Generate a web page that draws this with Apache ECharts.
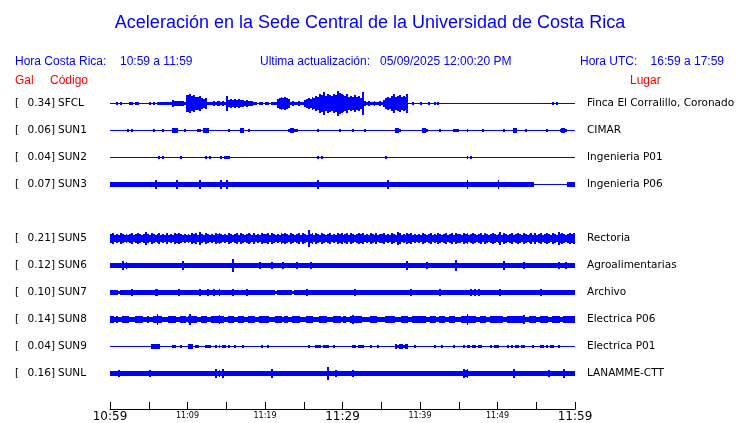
<!DOCTYPE html>
<html><head><meta charset="utf-8">
<script src="https://cdn.jsdelivr.net/npm/echarts@6/dist/echarts.min.js"></script>
<style>html,body{margin:0;padding:0;background:#fff}#c{width:740px;height:423px}</style>
</head><body><div id="c"></div>
<script>
// ---- data ----
const codes  = ['SFCL','SUN1','SUN2','SUN3','SUN5','SUN6','SUN7','SUN8','SUN9','SUNL'];
const gal    = [0.34, 0.06, 0.04, 0.07, 0.21, 0.12, 0.10, 0.14, 0.04, 0.16];
const places = ['Finca El Corralillo, Coronado','CIMAR','Ingenieria P01','Ingenieria P06','Rectoria',
                'Agroalimentarias','Archivo','Electrica P06','Electrica P01','LANAMME-CTT'];
const slots  = [0,1,2,3,5,6,7,8,9,10];           // row of each station (SUN4 row empty)
const tickLabels = ['10:59','11:09','11:19','11:29','11:39','11:49','11:59'];
const stepMin = 0.25;                              // minutes per envelope sample
// envelope half-amplitude per 0.25 min (base-36 digits), one string per 5 minutes
const ampSFCL = ['00010100001101100000','10101111111132222218','89786675451112122121','73434343323222110110',
                 '11011145656541211211','3454657698b798798ca9','8796768675b212112112','13565796786769001000',
                 '10001001010000000000','00000000000000000000','00000000000000000000','00000000101000000000'];
const ampSUN1 = ['00000000010100000000','00100001000022200010','00000110222000000000','01000002200100000000',
                 '00000000000012211000','00000001000000000010','00000100000100000000','00000002210000000000',
                 '02210000001000000111','00001000000010000000','00010000220000100000','00000100000012210000'];
const ampSUN2 = ['00000000000000000000','00000101000000001000','00000000010100000101','11000000000000000000',
                 '00000000000000000000','00000001010000000000','00000000000000000000','00100000000000000000',
                 '00000000000000000000','00001010000000000000','00000000000000000000','00000000000000000000'];
const ampSUN3 = ['22222222222222222222','22242222222222422222','22222242222222222422','42222222222222222222',
                 '22222222222222222222','22222224222222222222','22222222222222222222','22242222222222222222',
                 '22222222222222222222','22224222222222222222','42222222222222222220','00000000000000002222'];
const ampSUN5 = ['45343543434534543464','35434534353435454343','43545364354343545434','35434535434543534354',
                 '45354343545435434535','43845354354345343545','34535434545343543534','45343543653435453434',
                 '35434534354345345354','43545345434535434543','46354345345435434535','34534543543645434545'];
const ampSUN6 = ['22222242322222222222','22222222222222222422','22222222222222222222','22262222222222222322',
                 '22232222232222223222','22232222222222222222','22222222222222222222','22222222222224222222',
                 '22232222222222222252','22222222222222222222','22242222222223222222','22222222222322232222'];
const ampSUN7 = ['22221222222322222222','22233222222222232222','22222232223223223222','22232222223222222222',
                 '22222122222222122222','23222222222222222222','22222232222222222222','22222222222222232222',
                 '22222222223222222222','22222232323222222222','23222222222222222222','22322222222222222222'];
const ampSUN8 = ['33232233332223333223','22335332223333223332','35333223332233334332','23332233322333322333',
                 '33222333323322333322','23333222333322233332','33223433332222333322','22333332223333223333',
                 '33322333223332233322','23335333322333223333','33322333333334223333','22333322333322333333'];
const ampSUN9 = ['00000000000000000000','02222200000011001000','22201100011100101011','01001000100000000010',
                 '01000000000000000000','00100011101110010000','00000110111000100010','00000002122122000100',
                 '00000001000100000100','00101101101100001011','10000101011011000010','00110101100100000000'];
const ampSUNL = ['22223222222222222222','32222222222222222222','22222222222222423242','22222222222222222222',
                 '22242222222222222222','22222222222262223222','22222322222222222222','22222222222222222222',
                 '22222222222222222222','22434222222222222222','22222222422222222222','22222232222222422222'];
const envelopes = [ampSFCL, ampSUN1, ampSUN2, ampSUN3, ampSUN5, ampSUN6, ampSUN7, ampSUN8, ampSUN9, ampSUNL];

// ---- chart ----
const BLUE = '#0000ff';
const AMP_PER_SLOT = 27;   // amplitude units per row spacing
const chart = echarts.init(document.getElementById('c'), null, {renderer: 'canvas'});

function parseEnv(chunks) {
  return chunks.join('').split('').map(ch => parseInt(ch, 36));
}
function renderItem(params, api) {
  const t = api.value(0), slot = api.value(1), a = api.value(2);
  const p0 = api.coord([t, slot]);
  const p1 = api.coord([t + stepMin, slot]);
  const half = api.size([0, a / AMP_PER_SLOT])[1];
  const x0 = Math.round(p0[0]), x1 = Math.round(p1[0]);
  const y0 = Math.round(p0[1] - half - 0.5), y1 = Math.round(p0[1] + half + 0.5);
  return {
    type: 'rect',
    shape: {x: x0, y: y0, width: Math.max(x1 - x0, 1), height: Math.max(y1 - y0, 1)},
    style: {fill: BLUE}
  };
}
const series = codes.map((c, k) => ({
  type: 'custom', name: c, xAxisIndex: 0, yAxisIndex: 0,
  renderItem: renderItem, animation: false, silent: true,
  data: parseEnv(envelopes[k]).map((a, i) => [i * stepMin, slots[k], a])
}));

const option = {
  animation: false,
  grid: [
    {left: 110, right: 165, top: 89.5, bottom: 36.2},
    {left: 110, right: 165, top: 395, bottom: 14}
  ],
  xAxis: [
    {gridIndex: 0, type: 'value', min: 0, max: 60, show: false},
    {gridIndex: 1, type: 'value', min: 0, max: 60, interval: 5,
     axisLine: {show: true, lineStyle: {color: '#000', width: 1}},
     axisTick: {show: true, inside: true, length: 7, lineStyle: {color: '#000', width: 1}},
     splitLine: {show: false},
     axisLabel: {
       margin: 2, showMinLabel: true, showMaxLabel: true,
       formatter: v => {
         if (v % 10 !== 0) return '';
         const idx = v / 10;
         return idx % 3 === 0 ? '{big|' + tickLabels[idx] + '}' : '{small|' + tickLabels[idx] + '}';
       },
       rich: {
         big: {fontFamily: 'DejaVu Sans', fontSize: 12, color: '#000'},
         small: {fontFamily: 'DejaVu Sans', fontSize: 8, color: '#000', padding: [1, 0, 0, 0]}
       }
     }}
  ],
  yAxis: [
    {gridIndex: 0, type: 'value', min: -0.5, max: 10.5, inverse: true, show: false},
    {gridIndex: 1, type: 'value', min: 0, max: 1, show: false}
  ],
  series: series
};
chart.setOption(option);

// ---- texts ----
const F_HEAD = '"Liberation Sans", Arial, sans-serif';
const F_ROW = '"DejaVu Sans", sans-serif';
const g = [
  {type: 'text', x: 370, y: 23, style: {text: 'Aceleración en la Sede Central de la Universidad de Costa Rica',
    fontFamily: F_HEAD, fontSize: 18, fill: BLUE, textAlign: 'center', textVerticalAlign: 'middle'}},
  {type: 'text', x: 15, y: 61.5, style: {text: 'Hora Costa Rica:', fontFamily: F_HEAD, fontSize: 12, fill: BLUE, textVerticalAlign: 'middle'}},
  {type: 'text', x: 120, y: 61.5, style: {text: '10:59 a 11:59', fontFamily: F_HEAD, fontSize: 12, fill: BLUE, textVerticalAlign: 'middle'}},
  {type: 'text', x: 260, y: 61.5, style: {text: 'Ultima actualización:', fontFamily: F_HEAD, fontSize: 12, fill: BLUE, textVerticalAlign: 'middle'}},
  {type: 'text', x: 380, y: 61.5, style: {text: '05/09/2025 12:00:20 PM', fontFamily: F_HEAD, fontSize: 12, fill: BLUE, textVerticalAlign: 'middle'}},
  {type: 'text', x: 580, y: 61.5, style: {text: 'Hora UTC:', fontFamily: F_HEAD, fontSize: 12, fill: BLUE, textVerticalAlign: 'middle'}},
  {type: 'text', x: 724, y: 61.5, style: {text: '16:59 a 17:59', fontFamily: F_HEAD, fontSize: 12, fill: BLUE, textAlign: 'right', textVerticalAlign: 'middle'}},
  {type: 'text', x: 15, y: 81, style: {text: 'Gal', fontFamily: F_HEAD, fontSize: 12, fill: '#ff0000', textVerticalAlign: 'middle'}},
  {type: 'text', x: 50, y: 81, style: {text: 'Código', fontFamily: F_HEAD, fontSize: 12, fill: '#ff0000', textVerticalAlign: 'middle'}},
  {type: 'text', x: 630, y: 81, style: {text: 'Lugar', fontFamily: F_HEAD, fontSize: 12, fill: '#ff0000', textVerticalAlign: 'middle'}}
];
codes.forEach((c, k) => {
  const y = chart.convertToPixel({gridIndex: 0}, [0, slots[k]])[1];
  const st = {fontFamily: F_ROW, fontSize: 10.5, fill: '#000', textVerticalAlign: 'middle'};
  g.push({type: 'text', x: 15, y: y, style: Object.assign({text: '['}, st)});
  g.push({type: 'text', x: 55, y: y, style: Object.assign({text: gal[k].toFixed(2) + ']', textAlign: 'right'}, st)});
  g.push({type: 'text', x: 58, y: y, style: Object.assign({text: c}, st)});
  g.push({type: 'text', x: 587, y: y, style: Object.assign({text: places[k]}, st)});
});
chart.setOption({graphic: g});
</script>
</body></html>
